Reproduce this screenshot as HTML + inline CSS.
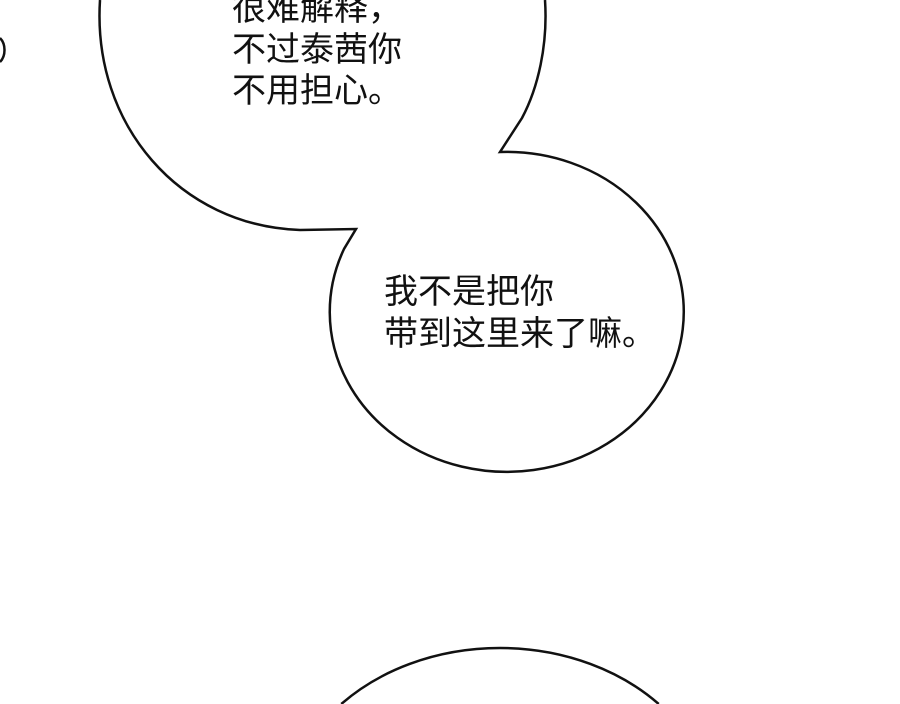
<!DOCTYPE html>
<html><head><meta charset="utf-8"><style>
html,body{margin:0;padding:0;background:#fff;width:900px;height:704px;overflow:hidden}
svg{display:block}
text{font-family:"Liberation Sans","Noto Sans CJK SC",sans-serif;font-size:34px;fill:#111}
</style></head><body>
<svg width="900" height="704" viewBox="0 0 900 704">
<g fill="#fff" stroke="#111" stroke-width="2.5" stroke-linejoin="miter">
<path d="M100,0 C92,125 180,226 300,230 L356,229 L344,249 A177 160 0 1 0 500,152 L522,118 C538,88 548,45 545,0"/>
<path d="M341.3,704 A215 172 0 0 1 658.7,704"/>
<path d="M0,38 C6,44 6,56 0,62" fill="none"/>
</g>
<text x="232" y="20">很难解释，</text>
<text x="232" y="61">不过泰茜你</text>
<text x="232" y="102">不用担心。</text>
<text x="384" y="303">我不是把你</text>
<text x="384" y="345">带到这里来了嘛。</text>
</svg>
</body></html>
